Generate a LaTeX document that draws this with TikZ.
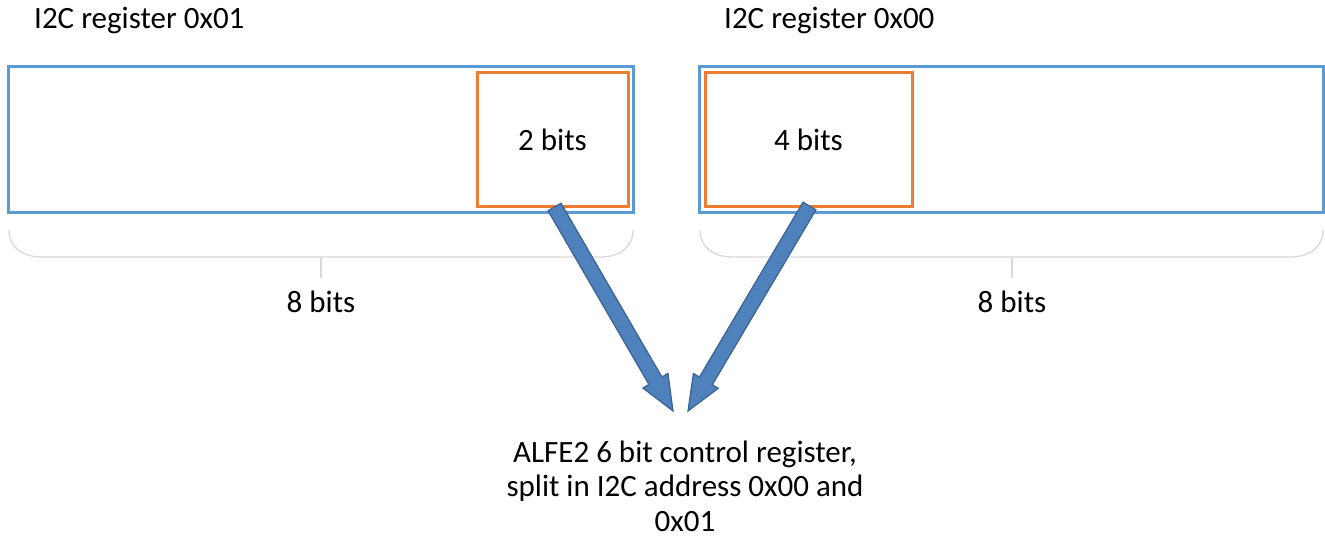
\documentclass[tikz,border=0pt]{standalone}
\usepackage{fontspec}
\setmainfont{Carlito}
\usetikzlibrary{calc}
\definecolor{regblue}{RGB}{91,155,213}
\definecolor{bitorange}{RGB}{237,125,49}
\definecolor{arrowfill}{RGB}{79,129,189}
\definecolor{arrowline}{RGB}{58,98,146}
\definecolor{bracegray}{RGB}{217,217,217}
\begin{document}
\begin{tikzpicture}[x=1pt,y=-1pt,
  regbox/.style={draw=regblue, line width=3pt, inner sep=0pt, outer sep=0pt},
  bitbox/.style={draw=bitorange, line width=3pt, inner sep=0pt, outer sep=0pt, font=\fontsize{31}{36}\selectfont},
  lbl/.style={font=\fontsize{31}{36}\selectfont, inner sep=0pt},
  bracelinestyle/.style={draw=bracegray, line width=1.3pt},
  blockarrow/.style={fill=arrowfill, draw=arrowline, line width=1.2pt, line join=miter}
]
\useasboundingbox (0,0) rectangle (1325,540);
% registers
\node[regbox, minimum width=625pt, minimum height=146pt] (r1) at (321,140) {};
\node[regbox, minimum width=624pt, minimum height=146pt] (r0) at (1011,140) {};
% bit fields
\node[bitbox, minimum width=151pt, minimum height=134pt] (b2) at (552.5,140) {2 bits};
\node[bitbox, minimum width=207pt, minimum height=134pt] (b4) at (808.5,140) {4 bits};
% titles
\node[lbl, anchor=west] (t1) at (34,21) {I2C register 0x01};
\node[lbl, anchor=west] (t0) at (724,21) {I2C register 0x00};
% braces
\draw[bracelinestyle] (9,230) .. controls (9,247) and (22,257) .. (42,257) -- (600,257) .. controls (620,257) and (633,247) .. (633,230);
\draw[bracelinestyle] (321,257) -- (321,278);
\draw[bracelinestyle] (700,230) .. controls (700,247) and (713,257) .. (733,257) -- (1290,257) .. controls (1310,257) and (1323,247) .. (1323,230);
\draw[bracelinestyle] (1012,257) -- (1012,278);
\node[lbl] (w1) at (321,302) {8 bits};
\node[lbl] (w0) at (1012,302) {8 bits};
% result text
\node[lbl, align=center, font=\fontsize{31}{34.5}\selectfont] (res) at (685,486) {ALFE2 6 bit control register,\\split in I2C address 0x00 and\\0x01};
% arrows
\coordinate (s1) at ($(b2.south)+(2,0)$);
\coordinate (e1) at (673,411);
\coordinate (s2) at ($(b4.south)+(1,-1)$);
\coordinate (e2) at (688,411);
\foreach \s/\e in {s1/e1,s2/e2}{
  \coordinate (hb) at ($(\e)!35pt!(\s)$);
  \draw[blockarrow]
    ($(\s)!7.5pt!90:(\e)$) -- ($(hb)!7.5pt!90:(\e)$) -- ($(hb)!14.5pt!90:(\e)$) -- (\e)
    -- ($(hb)!14.5pt!-90:(\e)$) -- ($(hb)!7.5pt!-90:(\e)$) -- ($(\s)!7.5pt!-90:(\e)$) -- cycle;
}
\end{tikzpicture}
\end{document}
